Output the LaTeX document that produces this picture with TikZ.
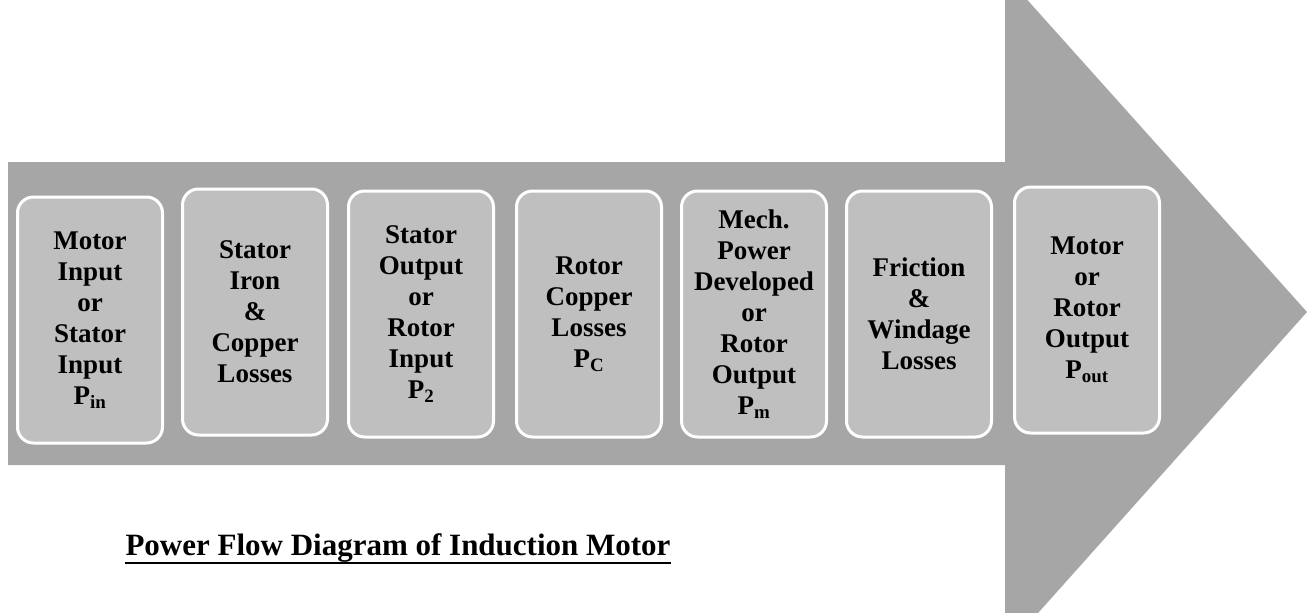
\documentclass[tikz,border=0pt]{standalone}
\usepackage{fontspec}
\setmainfont{Liberation Serif}
\usepackage{tikz}
\definecolor{arrowgray}{HTML}{A6A6A6}
\definecolor{boxgray}{HTML}{BFBFBF}

\begin{document}
\begin{tikzpicture}[x=1pt, y=-1pt,
  stage/.style={draw=white, line width=3pt, fill=boxgray, rounded corners=16pt,
    minimum width=145pt, minimum height=246pt, align=center, inner sep=0pt,
    font=\bfseries\fontsize{27}{31}\selectfont}]
  \useasboundingbox (0,0) rectangle (1307,613);
  \clip (0,0) rectangle (1307,613);

  % big arrow
  \fill[arrowgray] (8,162) -- (1005,162) -- (1005,-25) -- (1307,312)
    -- (1005,650) -- (1005,465) -- (8,465) -- cycle;

  \node[stage] (A) at (90,320) {Motor\\Input\\or\\Stator\\Input\\P\textsubscript{in}};
  \node[stage] (B) at (255,312) {Stator\\Iron\\\&\\Copper\\Losses};
  \node[stage] (C) at (421,314) {Stator\\Output\\or\\Rotor\\Input\\P\textsubscript{2}};
  \node[stage] (D) at (589,314) {Rotor\\Copper\\Losses\\P\textsubscript{C}};
  \node[stage] (E) at (754,314) {Mech.\\Power\\Developed\\or\\Rotor\\Output\\P\textsubscript{m}};
  \node[stage] (F) at (919,314) {Friction\\\&\\Windage\\Losses};
  \node[stage] (G) at (1087,310) {Motor\\or\\Rotor\\Output\\P\textsubscript{out}};

  \node[font=\bfseries\fontsize{31}{37}\selectfont, inner sep=0pt, anchor=base] (T) at (398,555)
    {Power Flow Diagram of Induction Motor};
  \draw[line width=2.5pt] ([yshift=-8pt]T.base west) -- ([yshift=-8pt]T.base east);
\end{tikzpicture}
\end{document}
